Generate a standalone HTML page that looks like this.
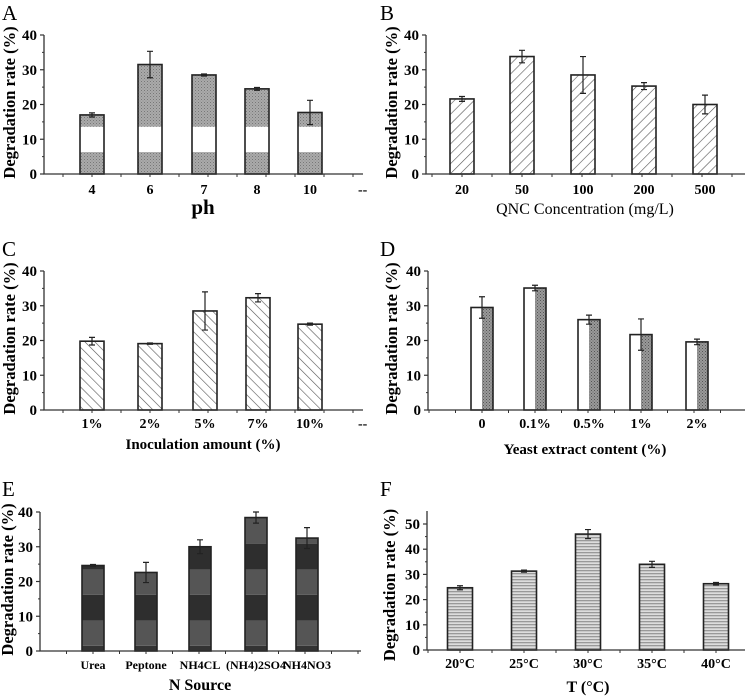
<!DOCTYPE html>
<html><head><meta charset="utf-8"><style>
body{margin:0;background:#fff;}
svg{display:block;font-family:"Liberation Serif",serif;}
</style></head><body>
<svg id="fig" width="750" height="697" viewBox="0 0 750 697">
<defs>
<pattern id="pDot" width="3" height="3" patternUnits="userSpaceOnUse"><rect width="3" height="3" fill="#aaa"/><rect width="1" height="1" fill="#777"/><rect x="1.5" y="1.5" width="1" height="1" fill="#888"/></pattern>
<pattern id="pFwd" width="7" height="7" patternUnits="userSpaceOnUse" patternTransform="rotate(45)"><rect width="7" height="7" fill="#fff"/><line x1="0" y1="0" x2="0" y2="7" stroke="#555" stroke-width="1.2"/></pattern>
<pattern id="pBack" width="7" height="7" patternUnits="userSpaceOnUse" patternTransform="rotate(-45)"><rect width="7" height="7" fill="#fff"/><line x1="0" y1="0" x2="0" y2="7" stroke="#555" stroke-width="1.2"/></pattern>
<pattern id="pCross" width="3" height="3" patternUnits="userSpaceOnUse"><rect width="3" height="3" fill="#999"/><rect width="1" height="1" fill="#555"/><rect x="1.5" y="1.5" width="1" height="1" fill="#666"/></pattern>
<pattern id="pHor" width="4" height="3" patternUnits="userSpaceOnUse"><rect width="4" height="3" fill="#ddd"/><rect width="4" height="1.3" fill="#999"/></pattern>
</defs>
</svg>
<script>
const catsA=["4","6","7","8","10"];
const valsA=[17,31.5,28.5,24.5,17.7];
const errA=[0.6,3.8,0.3,0.4,3.5];
const catsB=["20","50","100","200","500"];
const valsB=[21.6,33.8,28.5,25.3,20];
const errB=[0.7,1.8,5.3,1.0,2.7];
const catsC=["1%","2%","5%","7%","10%"];
const valsC=[19.8,19.1,28.5,32.3,24.7];
const errC=[1.1,0.2,5.5,1.2,0.3];
const catsD=["0","0.1%","0.5%","1%","2%"];
const valsD=[29.5,35.1,26,21.7,19.6];
const errD=[3.1,0.8,1.3,4.5,0.8];
const catsE=["Urea","Peptone","NH4CL","(NH4)2SO4","NH4NO3"];
const valsE=[24.6,22.6,30,38.4,32.5];
const errE=[0.3,2.9,2.0,1.6,3.0];
const catsF=["20°C","25°C","30°C","35°C","40°C"];
const valsF=[24.7,31.3,46,34,26.3];
const errF=[0.8,0.4,1.8,1.2,0.5];
const ticks40=[0,10,20,30,40];
const ticks50=[0,10,20,30,40,50];

const NS="http://www.w3.org/2000/svg";
const svg=document.getElementById('fig');
function mk(tag,attrs,parent,txt){const e=document.createElementNS(NS,tag);for(const k in attrs)e.setAttribute(k,attrs[k]);if(txt!==undefined)e.textContent=txt;(parent||svg).appendChild(e);return e;}

function panel(o){
  const g=mk('g',{});
  
  
  const y=v=>o.y0-(v/o.ymax)*(o.y0-o.ytop);
  const letter=mk('text',{x:o.lx,y:o.ly,'font-size':21},g,o.id);
  
  
  o.cats.forEach((c,i)=>{
    const cx=o.xs[i],w=o.bw,top=y(o.vals[i]),h=o.y0-top;
    const bg=mk('g',{},g);
    
    
    if(o.style==='A'){
      mk('rect',{x:cx-w/2,y:top,width:w,height:h,fill:'url(#pDot)'},bg);
      const a=Math.max(y(13.6),top),b=y(6.3);
      if(b>a) mk('rect',{x:cx-w/2,y:a,width:w,height:b-a,fill:'#fff'},bg);
    }else if(o.style==='D'){
      mk('rect',{x:cx-w/2,y:top,width:w/2,height:h,fill:'#fff'},bg);
      mk('rect',{x:cx,y:top,width:w/2,height:h,fill:'url(#pCross)'},bg);
    }else if(o.style==='E'){
      const bands=[[0,1.5,'#333'],[1.5,8.7,'#555'],[8.7,16.2,'#2e2e2e'],[16.2,23.4,'#555'],[23.4,30.9,'#2e2e2e'],[30.9,45,'#555']];
      bands.forEach(bd=>{const lo=bd[0],hi=Math.min(bd[1],o.vals[i]);if(hi>lo)mk('rect',{x:cx-w/2,y:y(hi),width:w,height:y(lo)-y(hi),fill:bd[2]},bg);});
    }else{
      mk('rect',{x:cx-w/2,y:top,width:w,height:h,fill:o.fill},bg);
    }
    mk('rect',{x:cx-w/2,y:top,width:w,height:h,fill:'none',stroke:'#222','stroke-width':1.6},bg);
    const e=o.err[i];
    mk('path',{d:`M${cx} ${y(o.vals[i]+e)}V${y(o.vals[i]-e)}M${cx-3} ${y(o.vals[i]+e)}h6M${cx-3} ${y(o.vals[i]-e)}h6`,stroke:'#222','stroke-width':1.2,fill:'none'},bg);
    const t=mk('text',{x:cx,y:o.tly,'font-size':o.tfs||14,'font-weight':'bold','text-anchor':'middle'},g,c);
    
    
  });
  const ax=mk('path',{d:`M${o.ax} ${o.yaxTop}V${o.y0}H${o.xend}`,stroke:'#333','stroke-width':1.3,fill:'none'},g);
  
  
  o.ticks.forEach(v=>{
    mk('line',{x1:o.ax-4,x2:o.ax,y1:y(v),y2:y(v),stroke:'#333','stroke-width':1.2},g);
    if(v<o.ticks[o.ticks.length-1]) mk('line',{x1:o.ax-2,x2:o.ax,y1:y(v+5),y2:y(v+5),stroke:'#333'},g);
    const t=mk('text',{x:o.ax-7,y:y(v)+5,'font-size':15,'font-weight':'bold','text-anchor':'end'},g,String(v));
    
    
  });
  const step=(o.xs[1]-o.xs[0])/2;
  for(let xx=o.xs[0]-2*step;xx<o.xend;xx+=step){ if(xx>o.ax) mk('line',{x1:xx,x2:xx,y1:o.y0,y2:o.y0+3,stroke:'#333'},g);}
  const yl=mk('text',{x:0,y:0,'font-size':16.5,'font-weight':'bold','text-anchor':'middle',transform:`translate(${o.ylx},${(o.y0+o.ytop)/2-2}) rotate(-90)`},g,'Degradation rate (%)');
  
  
  const xt=mk('text',{x:o.xtx,y:o.xty,'font-size':o.xtfs,'font-weight':o.xtw,'text-anchor':'middle'},g,o.xtitle);
  
  
  if(o.dash){const d=mk('text',{x:o.dash,y:o.tly,'font-size':14,'font-weight':'bold'},g,'--');}
}

panel({id:'A',lx:2,ly:20,cats:catsA,vals:valsA,err:errA,style:'A',xs:[92,150,204,257,310],bw:24,ax:44,y0:174,ytop:35,yaxTop:35,ymax:40,xend:363,ticks:ticks40,tly:194,ylx:15,xtitle:'ph',xtx:203,xty:214,xtfs:21,xtw:'bold',dash:358});
panel({id:'B',lx:380,ly:20,cats:catsB,vals:valsB,err:errB,fill:'url(#pFwd)',xs:[462,522,583,644,705],bw:24,ax:426,y0:174,ytop:35,yaxTop:35,ymax:40,xend:745,ticks:ticks40,tly:194,ylx:397,xtitle:'QNC Concentration (mg/L)',xtx:585,xty:214,xtfs:16,xtw:'normal'});
panel({id:'C',lx:2,ly:256,cats:catsC,vals:valsC,err:errC,fill:'url(#pBack)',xs:[92,150,205,258,310],bw:24,ax:44,y0:410,ytop:271,yaxTop:271,ymax:40,xend:363,ticks:ticks40,tly:428,ylx:15,xtitle:'Inoculation amount (%)',xtx:203,xty:449,xtfs:15,xtw:'bold',dash:358});
panel({id:'D',lx:380,ly:256,cats:catsD,vals:valsD,err:errD,style:'D',xs:[482,535,589,641,697],bw:22,ax:428,y0:410,ytop:271,yaxTop:271,ymax:40,xend:745,ticks:ticks40,tly:428,ylx:397,xtitle:'Yeast extract content (%)',xtx:585,xty:454,xtfs:15,xtw:'bold'});
panel({id:'E',lx:2,ly:496,cats:catsE,vals:valsE,err:errE,style:'E',xs:[93,146,200,256,307],bw:22,ax:40,y0:651,ytop:512,yaxTop:512,ymax:40,xend:361,ticks:ticks40,tly:669,tfs:12,ylx:13,xtitle:'N Source',xtx:200,xty:690,xtfs:16,xtw:'bold'});
panel({id:'F',lx:380,ly:496,cats:catsF,vals:valsF,err:errF,fill:'url(#pHor)',xs:[460,524,588,652,716],bw:25,ax:427,y0:650,ytop:524,yaxTop:511,ymax:50,xend:745,ticks:ticks50,tly:668,ylx:395,xtitle:'T (°C)',xtx:588,xty:692,xtfs:16,xtw:'bold'});
</script>
</body></html>
